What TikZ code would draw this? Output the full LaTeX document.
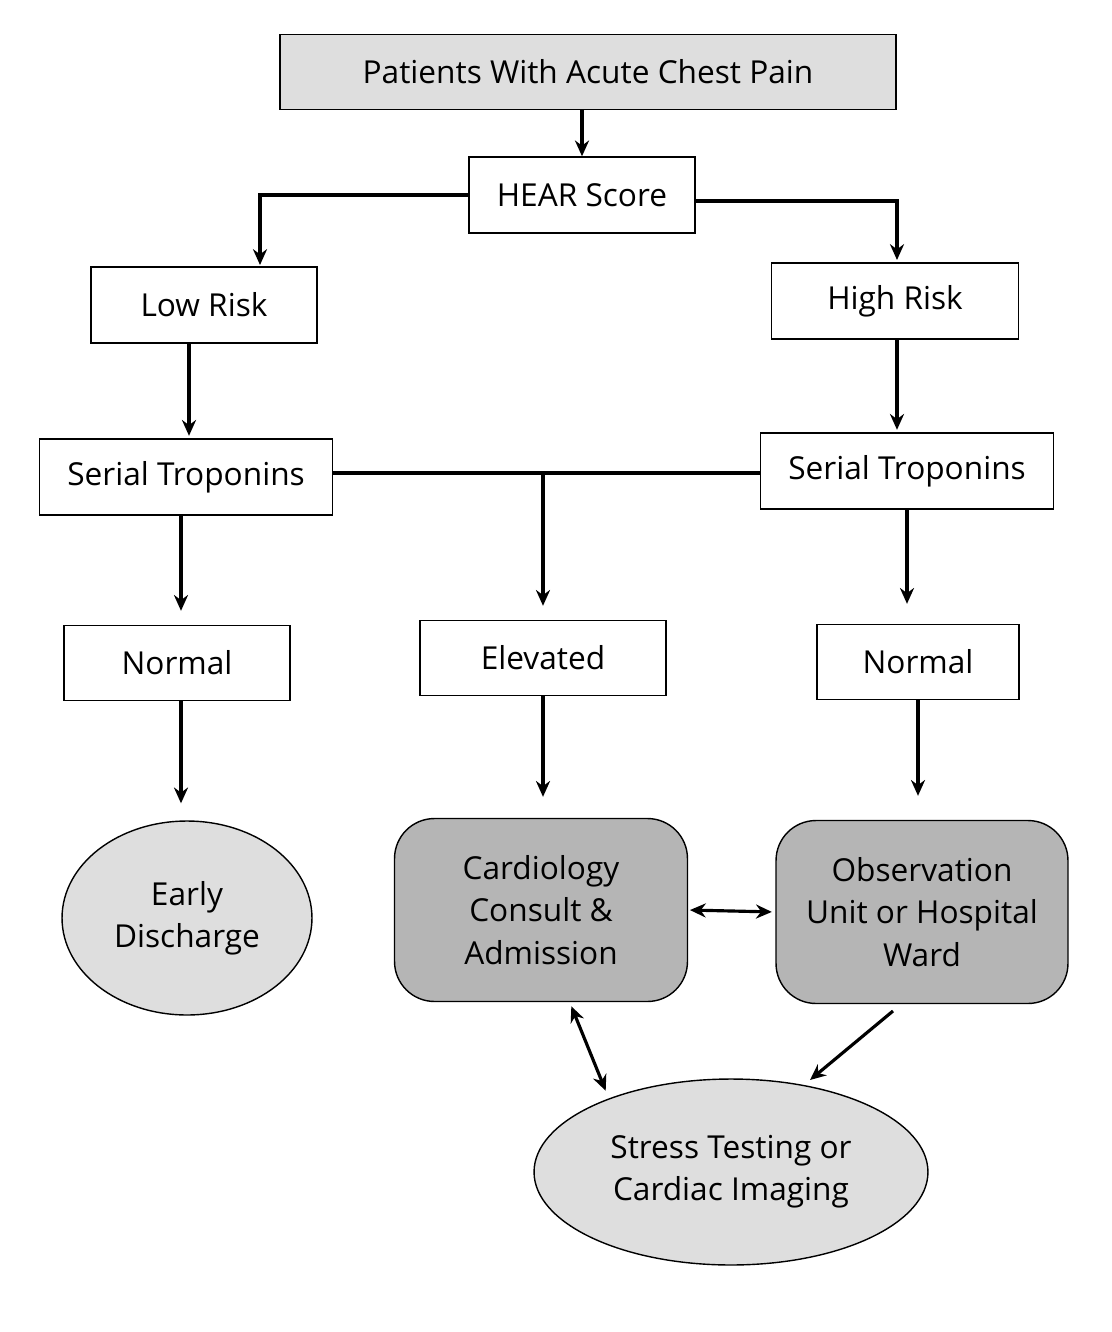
\documentclass[tikz,border=0pt]{standalone}
\usepackage{fontspec}
\setmainfont{Open Sans}
\usetikzlibrary{shapes.geometric,arrows.meta}
\definecolor{lightgray}{HTML}{DEDEDE}
\definecolor{midgray}{HTML}{B5B5B5}
\begin{document}
\begin{tikzpicture}[x=0.02cm,y=-0.02cm,
    every node/.style={font=\fontsize{18}{24}\selectfont},
    box/.style={draw, thick, inner sep=0pt},
    oval/.style={ellipse, draw, thick, fill=lightgray, align=center, inner sep=0pt},
    rbox/.style={draw, thick, fill=midgray, rounded corners=0.8cm, align=center, inner sep=0pt},
    arr/.style={-{Stealth[length=9pt,width=8pt]}, line width=1.8pt},
    darr/.style={{Stealth[length=9pt,width=8pt]}-{Stealth[length=9pt,width=8pt]}, line width=1.8pt}]
    \useasboundingbox (0,0) rectangle (1112,1332);

    % Boîtes
    \node[box, fill=lightgray, minimum width=12.32cm, minimum height=1.5cm] (patients) at (588,72) {Patients With Acute Chest Pain};
    \node[box, minimum width=4.52cm, minimum height=1.52cm] (hear) at (582,195) {HEAR Score};
    \node[box, minimum width=4.52cm, minimum height=1.52cm] (low) at (204,305) {Low Risk};
    \node[box, minimum width=4.94cm, minimum height=1.52cm] (high) at (895,301) {High Risk};
    \node[box, minimum width=5.86cm, minimum height=1.52cm] (serialL) at (186,477) {Serial Troponins};
    \node[box, minimum width=5.86cm, minimum height=1.52cm] (serialR) at (907,471) {Serial Troponins};
    \node[box, minimum width=4.52cm, minimum height=1.5cm] (normalL) at (177,663) {Normal};
    \node[box, minimum width=4.92cm, minimum height=1.5cm] (elevated) at (543,658) {Elevated};
    \node[box, minimum width=4.04cm, minimum height=1.5cm] (normalR) at (918,662) {Normal};

    % Issues
    \node[oval, minimum width=5cm, minimum height=3.88cm] (early) at (187,918) {Early\\Discharge};
    \node[rbox, minimum width=5.86cm, minimum height=3.66cm] (cardio) at (541,910) {Cardiology\\Consult \&\\Admission};
    \node[rbox, minimum width=5.84cm, minimum height=3.66cm] (obs) at (922,912) {Observation\\Unit or Hospital\\Ward};
    \node[oval, minimum width=7.88cm, minimum height=3.72cm] (stress) at (731,1172) {Stress Testing or\\Cardiac Imaging};

    % Extrémités libres
    \coordinate (lowtop) at (260,265);
    \coordinate (hightop) at (897,260);
    \coordinate (branch) at (543,473);

    % Flèches
    \draw[arr] (patients.south -| hear) -- (hear);
    \draw[arr] (hear.west) -| (lowtop);
    \draw[arr] ([yshift=-0.12cm]hear.east) -| (hightop);
    \draw[arr] (low.south -| 189,0) -- ([yshift=0.05cm]serialL.north -| 189,0);
    \draw[arr] (high.south -| 897,0) -- ([yshift=0.05cm]serialR.north -| 897,0);
    \draw[line width=1.8pt] (serialL.east |- branch) -- (serialR.west |- branch);
    \draw[arr] (branch) -- ([yshift=0.28cm]elevated.north);
    \draw[arr] (serialL.south -| 181,0) -- ([yshift=0.28cm]normalL.north -| 181,0);
    \draw[arr] (serialR.south) -- ([yshift=0.4cm]normalR.north -| serialR);
    \draw[arr] (normalL.south -| 181,0) -- ([yshift=0.34cm]early.north -| 181,0);
    \draw[arr] (elevated.south) -- ([yshift=0.42cm]cardio.north -| elevated);
    \draw[arr] (normalR.south) -- ([yshift=0.48cm]obs.north -| normalR);
    \draw[darr, shorten <=1pt, shorten >=2pt] (cardio.east) -- (obs.west);
    \draw[darr, shorten <=2pt, shorten >=2pt] (570,1003) -- (607,1094);
    \draw[arr] (893,1011) -- (810,1080);
\end{tikzpicture}
\end{document}
